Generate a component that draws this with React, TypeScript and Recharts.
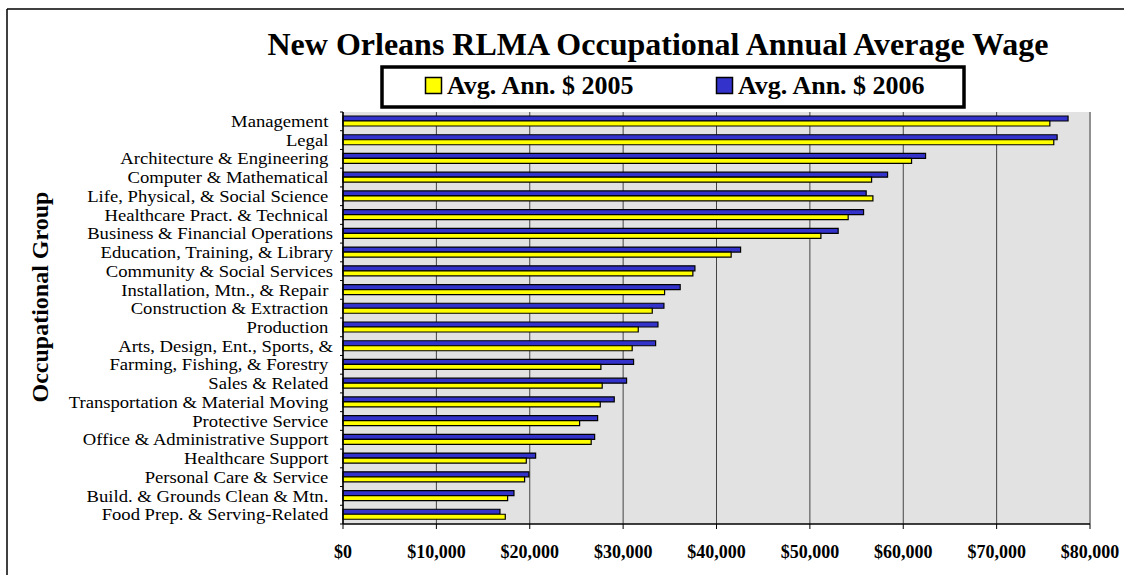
import React from 'react';
import { BarChart, Bar, XAxis, YAxis, CartesianGrid, ReferenceLine } from 'recharts';

const categories = [
  'Management ',
  'Legal ',
  'Architecture & Engineering ',
  'Computer & Mathematical ',
  'Life, Physical, & Social Science ',
  'Healthcare Pract. & Technical ',
  'Business & Financial Operations',
  'Education, Training, & Library',
  'Community & Social Services',
  'Installation, Mtn., & Repair ',
  'Construction & Extraction ',
  'Production ',
  'Arts, Design, Ent., Sports, &',
  'Farming, Fishing, & Forestry ',
  'Sales & Related ',
  'Transportation & Material Moving ',
  'Protective Service ',
  'Office & Administrative Support ',
  'Healthcare Support ',
  'Personal Care & Service ',
  'Build. & Grounds Clean & Mtn. ',
  'Food Prep. & Serving-Related ',
];

const avg2006 = [
  77650, 76480, 62390, 58320, 56030, 55750, 53030, 42580, 37690, 36110, 34370,
  33730, 33480, 31120, 30370, 29050, 27270, 26950, 20630, 19910, 18310, 16810,
];

const avg2005 = [
  75700, 76120, 60890, 56610, 56750, 54100, 51180, 41570, 37470, 34440, 33120,
  31620, 30970, 27620, 27760, 27550, 25340, 26580, 19630, 19450, 17630, 17380,
];

const xTicks = [0, 10000, 20000, 30000, 40000, 50000, 60000, 70000, 80000];

const TITLE = 'New Orleans RLMA Occupational Annual Average Wage';
const LEGEND_2005 = 'Avg. Ann. $ 2005';
const LEGEND_2006 = 'Avg. Ann. $ 2006';
const Y_TITLE = 'Occupational Group';

const data = categories.map((name, i) => ({
  name,
  y2006: avg2006[i],
  y2005: avg2005[i],
}));

const FONT = '"Liberation Serif", "Times New Roman", serif';
const W = 1124;
const H = 575;
const MARGIN = { top: 112, right: 34, bottom: 21, left: 0 };
const Y_AXIS_W = 343;
const X_AXIS_H = 30;
const PLOT_H = H - MARGIN.top - MARGIN.bottom - X_AXIS_H;
const BAND = PLOT_H / categories.length;

const BLUE = '#3333cc';
const YELLOW = '#ffff00';

const CategoryTick = (props: any) => {
  const { x, y, payload, index } = props;
  const isLast = index === categories.length - 1;
  return (
    <g>
      <line x1={x - 3} x2={x} y1={y - BAND / 2} y2={y - BAND / 2} stroke="#000" />
      {isLast && <line x1={x - 3} x2={x} y1={y + BAND / 2} y2={y + BAND / 2} stroke="#000" />}
      <text
        x={0}
        y={0}
        transform={`translate(${x - 10},${y}) scale(1.11,1)`}
        textAnchor="end"
        dominantBaseline="central"
        xmlSpace="preserve"
        style={{ whiteSpace: 'pre', fontFamily: FONT, fontSize: 16.8, fill: '#000' }}
      >
        {payload.value}
      </text>
    </g>
  );
};

const fmt = (v: number) => '$' + v.toLocaleString('en-US');

export default function App() {
  return (
    <div style={{ position: 'absolute', left: 0, top: 0, width: W, height: H, background: '#fff' }}>
      <BarChart
        width={W}
        height={H}
        data={data}
        layout="vertical"
        margin={MARGIN}
        barSize={5}
        barGap={0}
      >
        <CartesianGrid horizontal={false} vertical stroke="#444" fill="#e2e2e2" />
        <XAxis
          type="number"
          domain={[0, 80000]}
          ticks={xTicks}
          tickFormatter={fmt}
          height={X_AXIS_H}
          axisLine={{ stroke: '#000', strokeWidth: 1.5 }}
          tickLine={{ stroke: '#000' }}
          tickSize={5}
          tickMargin={16}
          tick={{ fontFamily: FONT, fontSize: 18, fontWeight: 'bold', fill: '#000' }}
          interval={0}
        />
        <XAxis
          xAxisId="top"
          orientation="top"
          type="number"
          domain={[0, 80000]}
          height={0}
          tick={false}
          tickLine={false}
          axisLine={{ stroke: '#909090', strokeWidth: 2 }}
        />
        <YAxis
          type="category"
          dataKey="name"
          width={Y_AXIS_W}
          axisLine={{ stroke: '#000', strokeWidth: 1.5 }}
          tickLine={false}
          tickSize={0}
          tickMargin={0}
          interval={0}
          tick={<CategoryTick />}
        />
        <ReferenceLine x={80000} stroke="#909090" strokeWidth={2} />
        <Bar dataKey="y2006" fill={BLUE} stroke="#000" strokeWidth={1.2} isAnimationActive={false} />
        <Bar dataKey="y2005" fill={YELLOW} stroke="#000" strokeWidth={1.2} isAnimationActive={false} />
      </BarChart>
      <svg
        width={W}
        height={H}
        style={{ position: 'absolute', left: 0, top: 0, pointerEvents: 'none' }}
      >
        <line x1={7} y1={9} x2={W} y2={9} stroke="#000" strokeWidth={1.5} />
        <line x1={7} y1={9} x2={7} y2={H} stroke="#000" strokeWidth={1.5} />
        <text x={658} y={55} textAnchor="middle" style={{ fontFamily: FONT, fontSize: 32, fontWeight: 'bold', fill: '#000' }}>
          {TITLE}
        </text>
        <rect x={382} y={67} width={582} height={40} fill="#fff" stroke="#000" strokeWidth={3.5} />
        <rect x={425.5} y={77.5} width={16} height={16} fill={YELLOW} stroke="#000" strokeWidth={1.5} />
        <text x={447} y={94} style={{ fontFamily: FONT, fontSize: 26, fontWeight: 'bold', fill: '#000' }}>
          {LEGEND_2005}
        </text>
        <rect x={716.5} y={77.5} width={16} height={16} fill={BLUE} stroke="#000" strokeWidth={1.5} />
        <text x={738} y={94} style={{ fontFamily: FONT, fontSize: 26, fontWeight: 'bold', fill: '#000' }}>
          {LEGEND_2006}
        </text>
        <text
          x={40}
          y={297}
          textAnchor="middle"
          dominantBaseline="central"
          transform="rotate(-90 40 297)"
          style={{ fontFamily: FONT, fontSize: 24, fontWeight: 'bold', fill: '#000' }}
        >
          {Y_TITLE}
        </text>
      </svg>
    </div>
  );
}
